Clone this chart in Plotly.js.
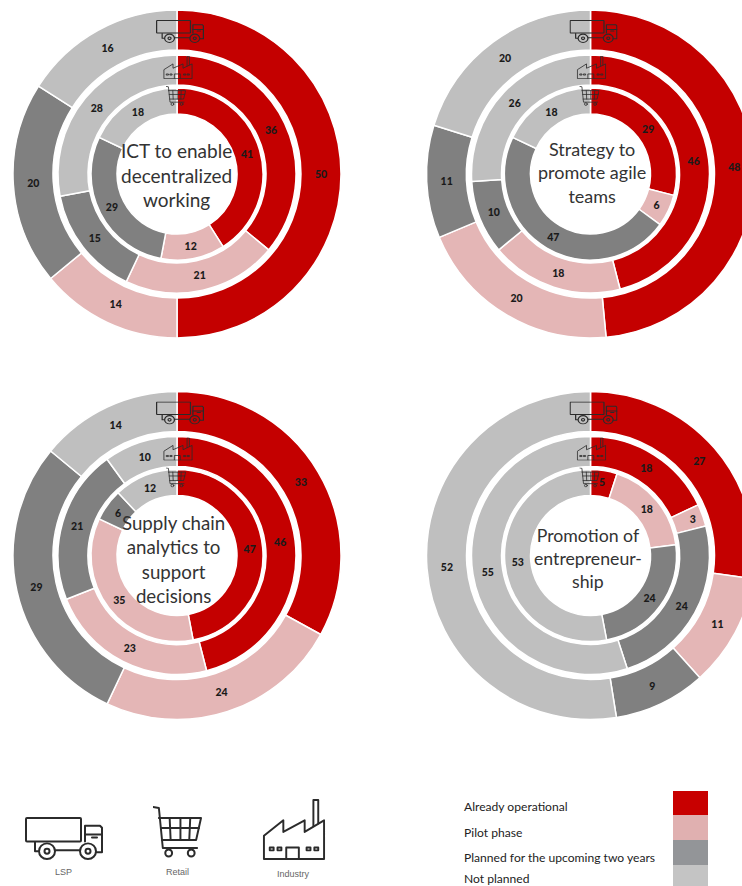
<!DOCTYPE html>
<html>
<head>
<meta charset="utf-8">
<script src="https://cdn.plot.ly/plotly-3.0.1.min.js"></script>
<style>
html, body { margin: 0; padding: 0; background: #fff; overflow: hidden; width: 742px; height: 886px; }
#chart { width: 770px; height: 900px; }
</style>
</head>
<body>
<div id="chart"></div>
<script>
// Shares (percent) in the order: operational, pilot, planned, not planned
const ictLsp = [50, 14, 20, 16];
const ictIndustry = [36, 21, 15, 28];
const ictRetail = [41, 12, 29, 18];
const agileLsp = [48, 20, 11, 20];
const agileIndustry = [46, 18, 10, 26];
const agileRetail = [29, 6, 47, 18];
const analyticsLsp = [33, 24, 29, 14];
const analyticsIndustry = [46, 23, 21, 10];
const analyticsRetail = [47, 35, 6, 12];
const entreLsp = [27, 11, 9, 52];
const entreIndustry = [18, 3, 24, 55];
const entreRetail = [5, 18, 24, 53];

const statusLabels = ['Already operational', 'Pilot phase', 'Planned for the upcoming two years', 'Not planned'];
const statusColors = ['#C40000', '#E4B6B6', '#808080', '#BFBFBF'];
const legendColors = ['#C80000', '#E0B0B0', '#939598', '#C4C4C4'];
const sectorNames = ['LSP', 'Retail', 'Industry'];

const W = 770, H = 900;

// Radii of the three rings, outer to inner
const rings = [
  { outer: 164, inner: 124 },
  { outer: 119, inner: 89 },
  { outer: 86, inner: 60 }
];

const panels = [
  { cx: 177, cy: 174, title: 'ICT to enable<br>decentralized<br>working', series: [ictLsp, ictIndustry, ictRetail], tx: 176.5, ty: 174.5, size: 19 },
  { cx: 590.5, cy: 174, title: 'Strategy to<br>promote agile<br>teams', series: [agileLsp, agileIndustry, agileRetail], tx: 591.5, ty: 173, size: 18 },
  { cx: 177, cy: 555.5, title: 'Supply chain<br>analytics to<br>support<br>decisions', series: [analyticsLsp, analyticsIndustry, analyticsRetail], tx: 173.5, ty: 559, size: 18.7 },
  { cx: 590.5, cy: 555.5, title: 'Promotion of<br>entrepreneur-<br>ship', series: [entreLsp, entreIndustry, entreRetail], tx: 588, ty: 558, size: 17.7 }
];

const svgUri = (w, h, body) =>
  'data:image/svg+xml;utf8,' + encodeURIComponent(
    `<svg xmlns="http://www.w3.org/2000/svg" viewBox="0 0 ${w} ${h}" width="${w * 4}" height="${h * 4}" fill="none" stroke="#2b2b2b" stroke-width="2" stroke-linejoin="round" stroke-linecap="round">${body}</svg>`);

const truckIcon = svgUri(78, 44,
  '<rect x="1" y="1" width="55" height="24" rx="1"/>' +
  '<path d="M60 25V9h15l2 2v25h-6"/><path d="M60 18h17M67 21h5"/>' +
  '<path d="M10 26v9h3M30 34h25"/><circle cx="22" cy="35" r="8"/><circle cx="22" cy="35" r="2.5"/>' +
  '<circle cx="63" cy="35" r="8"/><circle cx="63" cy="35" r="2.5"/>');
const cartIcon = svgUri(50, 52,
  '<path d="M0 1l6 1 4 40h35"/><path d="M6 12h43l-5 22H9"/>' +
  '<path d="M17 12l1 22M28 12v22M38 12l-1 22M8 22h39"/>' +
  '<circle cx="16" cy="47" r="3.5"/><circle cx="39" cy="47" r="3.5"/>');
const factoryIcon = svgUri(66, 64,
  '<path d="M2 62V38l20-16v12l22-12v12l20-12v40z"/><path d="M53 28V1h5v24"/>' +
  '<path d="M25 62V50h13v12"/><rect x="8" y="50" width="4" height="3"/><rect x="16" y="50" width="4" height="3"/>' +
  '<rect x="46" y="50" width="4" height="3"/><rect x="54" y="50" width="4" height="3"/>');

const px = x => x / W;
const py = y => 1 - y / H;

const traces = [];
const images = [];
const annotations = [];
const shapes = [];

const placeImage = (source, x0, x1, y0, y1) => images.push({
  source, xref: 'paper', yref: 'paper', x: px(x0), y: py(y0),
  sizex: px(x1 - x0), sizey: (y1 - y0) / H, xanchor: 'left', yanchor: 'top',
  sizing: 'stretch', layer: 'above'
});

panels.forEach(p => {
  p.series.forEach((values, i) => {
    const r = rings[i];
    const labelFont = { family: 'Lato, sans-serif', size: 10.5, color: '#1a1a1a', weight: 900 };
    traces.push({
      type: 'pie',
      values,
      labels: statusLabels,
      sort: false,
      direction: 'clockwise',
      rotation: 0,
      hole: r.inner / r.outer,
      domain: { x: [px(p.cx - r.outer), px(p.cx + r.outer)], y: [py(p.cy + r.outer), py(p.cy - r.outer)] },
      marker: { colors: statusColors, line: { color: '#ffffff', width: 1.5 } },
      textinfo: 'value',
      textposition: 'inside',
      insidetextorientation: 'horizontal',
      textfont: labelFont,
      insidetextfont: labelFont,
      hoverinfo: 'label+value',
      showlegend: false
    });
  });
  placeImage(truckIcon, p.cx - 21, p.cx + 27, p.cy - 154, p.cy - 131);
  placeImage(factoryIcon, p.cx - 14, p.cx + 16, p.cy - 118, p.cy - 95);
  placeImage(cartIcon, p.cx - 11, p.cx + 9, p.cy - 88, p.cy - 68);
  annotations.push({
    text: p.title, xref: 'paper', yref: 'paper', x: px(p.tx), y: py(p.ty),
    xanchor: 'center', yanchor: 'middle', showarrow: false, align: 'center',
    font: { family: 'Lato, sans-serif', size: p.size, color: '#333333' }
  });
});

// Sector key along the bottom
placeImage(truckIcon, 25, 103, 817, 860);
placeImage(cartIcon, 153, 202, 806, 858);
placeImage(factoryIcon, 262, 326, 799, 861);
[[63, 872], [177, 872], [293, 874]].forEach(([x, y], i) => annotations.push({
  text: sectorNames[i], xref: 'paper', yref: 'paper', x: px(x), y: py(y),
  xanchor: 'center', yanchor: 'middle', showarrow: false,
  font: { family: 'Liberation Sans, Arial, sans-serif', size: 9, color: '#666666' }
}));

// Status key: stacked colour column with captions on the left
const keyEdges = [791, 815, 840, 865, 890];
const keyTextY = [806, 832, 857, 878];
statusLabels.forEach((label, i) => {
  shapes.push({
    type: 'rect', xref: 'paper', yref: 'paper', x0: px(673), x1: px(708),
    y0: py(keyEdges[i + 1]), y1: py(keyEdges[i]),
    fillcolor: legendColors[i], line: { width: 0 }
  });
  annotations.push({
    text: label, xref: 'paper', yref: 'paper', x: px(462), y: py(keyTextY[i]),
    xanchor: 'left', yanchor: 'middle', showarrow: false,
    font: { family: 'Lato, sans-serif', size: 12.1, color: '#222222' }
  });
});

Plotly.newPlot('chart', traces, {
  width: W, height: H,
  margin: { l: 0, r: 0, t: 0, b: 0 },
  paper_bgcolor: '#ffffff',
  showlegend: false,
  images, annotations, shapes
}, { displayModeBar: false, staticPlot: true });
</script>
</body>
</html>
